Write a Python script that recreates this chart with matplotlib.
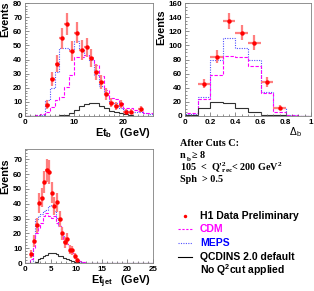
import numpy as np
import matplotlib
matplotlib.use('Agg')
import matplotlib.pyplot as plt
from matplotlib.ticker import MultipleLocator

plt.rcParams['mathtext.default'] = 'regular'

# ---- Et_b panel (1 GeV bins, 0..26) ----
etb_edges = np.arange(0, 27, 1)
etb_meps = [0, 0, 0.5, 1, 11, 19.5, 31, 48, 48, 46.5, 53, 46.5, 43, 39.5, 29, 21,
            15, 10, 9, 5.5, 4, 3, 2.5, 2.5, 2, 1.5]
etb_cdm = [0, 0, 1, 1.5, 3, 6.5, 11, 13.5, 20.5, 29, 42, 41.5, 43, 40.5, 36, 28,
           18.5, 12.5, 12, 9, 5.5, 5.5, 4, 3.5, 2, 2]
etb_qcd = [0, 0, 0, 0, 0, 0, 0.2, 0.5, 1, 2, 4, 7, 8.5, 9.5, 9, 7, 5.5, 3.5, 2.5,
           2, 1.2, 0.7, 0.3, 0.2, 0, 0]
etb_x = [4.5, 5.5, 6.5, 7.5, 8.5, 9.5, 10.5, 11.5, 12.5, 13.5, 14.5, 15.5, 16.5,
         17.5, 18.5, 19.5, 20.5, 21.5, 23.5]
etb_y = [8, 26, 37, 55, 65, 46, 59, 47, 48.5, 41, 31, 24, 15.5, 9.5, 7, 8.5, 3, 3, 5]
etb_err = [3, 5, 6, 7.5, 8, 7, 7.5, 7, 7, 6.5, 5.5, 5, 4, 3, 2.7, 3, 1.7, 1.7, 2.2]

# ---- Delta_b panel (0.1 bins) ----
db_edges = np.arange(0, 1.01, 0.1)
db_meps = [3, 27, 79, 110, 96, 79, 34, 12, 1, 0.5]
db_cdm = [4, 24, 58, 85, 83, 71, 32, 6, 1, 0.5]
db_qcd = [2, 12, 20, 19, 12, 5, 1.5, 1, 0.5, 0.3]
db_x = [0.15, 0.25, 0.35, 0.45, 0.55, 0.65, 0.75]
db_y = [46, 84, 135, 118, 104, 48.5, 12]
db_err = [7, 9, 11.5, 11, 10, 7, 3.5]

# ---- Et_jet panel (0.5 GeV bins, 0..25) ----
ej_edges = np.arange(0, 25.01, 0.5)
ej_meps = [0, 0, 0, 14.5, 30, 31.5, 33, 35, 36, 38.5, 39.5, 35, 30.5, 26, 20, 18,
           12.5, 9, 7, 4.5, 2.2, 1, 0.7, 0.3, 0.3, 0.3] + [0] * 24
ej_cdm = [0, 0, 3, 10, 20, 23.5, 27, 31.5, 34, 31.5, 30.5, 31.5, 27, 25, 20, 16,
          12.5, 10, 7, 4.5, 2.2, 1.1, 0.5, 0.5, 0, 0] + [0] * 24
ej_qcd = [0, 0, 0, 0, 1, 2.5, 3.5, 4.5, 5.4, 6.5, 7, 6.5, 6, 5, 4.5, 3.5, 3, 2,
          1.5, 1, 0.5, 0.2, 0, 0, 0, 0] + [0] * 24
ej_x = [1.25, 1.75, 2.25, 2.75, 3.25, 3.75, 4.25, 4.75, 5.25, 5.75, 6.25, 6.75,
        7.25, 7.75, 8.25, 8.75, 9.25, 9.75, 10.25]
ej_y = [6, 15, 25.5, 40.5, 44, 54.5, 62.5, 61.5, 47.5, 38.5, 41, 29.5, 20, 14,
        16, 9, 8.5, 4.5, 2]
ej_err = [2.5, 4, 5, 6.5, 6.5, 7.5, 8, 8, 7, 6, 6.5, 5.5, 4.5, 3.7, 4, 3, 3, 2.1, 1.4]

W, H = 314.0, 291.0
fig = plt.figure(figsize=(W / 100, H / 100), dpi=100)

tickfont = {'family': 'Liberation Sans', 'weight': 'bold', 'size': 5.8}
labfont = {'family': 'Liberation Sans', 'weight': 'bold', 'size': 7.8}


def frame(l, t, r, b):
    return fig.add_axes([l / W, 1 - b / H, (r - l) / W, (b - t) / H])


def draw(ax, edges, meps, cdm, qcd, x, y, err, xerr):
    ax.stairs(meps, edges, color='#5050ff', ls=(0, (1, 1.2)), lw=0.8)
    ax.stairs(cdm, edges, color='#ff00ff', ls=(0, (3, 1.5)), lw=0.8)
    ax.stairs(qcd, edges, color='#303030', lw=0.8)
    ax.errorbar(x, y, yerr=err, xerr=xerr, fmt='none', ecolor='#ff7f7f', elinewidth=1.6)
    ax.plot(x, y, 'o', color='#ff0000', ms=3.2, mec='none')
    ax.tick_params(which='both', direction='in', length=3, width=0.5, colors='#606060',
                   pad=2, labelcolor='black')
    ax.tick_params(which='minor', length=1.5)
    for lab in ax.get_xticklabels() + ax.get_yticklabels():
        lab.set_fontproperties(matplotlib.font_manager.FontProperties(**tickfont))
    for s in ax.spines.values():
        s.set_color('#808080')
        s.set_linewidth(0.6)


# top left
ax1 = frame(25, 3, 153, 116)
ax1.set_xlim(0, 26)
ax1.set_ylim(0, 80)
ax1.xaxis.set_major_locator(MultipleLocator(10))
ax1.xaxis.set_minor_locator(MultipleLocator(1))
ax1.yaxis.set_major_locator(MultipleLocator(10))
ax1.yaxis.set_minor_locator(MultipleLocator(2))
draw(ax1, etb_edges, etb_meps, etb_cdm, etb_qcd, etb_x, etb_y, etb_err, 0.5)
fig.text(0 / W, 1 - 1 / H, 'Events', rotation=90, ha='left', va='top', **labfont)
fig.text(151 / W, 1 - 133 / H, r'Et$_b$   (GeV)', ha='right', va='center', **labfont)

# top right
ax2 = frame(185, 3, 311, 116)
ax2.set_xlim(0, 1)
ax2.set_ylim(0, 160)
ax2.xaxis.set_major_locator(MultipleLocator(0.2))
ax2.xaxis.set_minor_locator(MultipleLocator(0.05))
ax2.yaxis.set_major_locator(MultipleLocator(20))
ax2.yaxis.set_minor_locator(MultipleLocator(5))
ax2.xaxis.set_major_formatter(matplotlib.ticker.FuncFormatter(lambda v, p: '%g' % round(v, 1)))
draw(ax2, db_edges, db_meps, db_cdm, db_qcd, db_x, db_y, db_err, 0.05)
fig.text(156 / W, 1 - 9 / H, 'Events', rotation=90, ha='left', va='top', **labfont)
fig.text(295 / W, 1 - 132 / H, r'Δ$_b$', ha='center', va='center',
         family='Liberation Sans', size=7.5)

# bottom left
ax3 = frame(25, 149, 153, 263)
ax3.set_xlim(0, 25)
ax3.set_ylim(0, 77)
ax3.xaxis.set_major_locator(MultipleLocator(5))
ax3.xaxis.set_minor_locator(MultipleLocator(1))
ax3.yaxis.set_major_locator(MultipleLocator(10))
ax3.yaxis.set_minor_locator(MultipleLocator(2))
draw(ax3, ej_edges, ej_meps, ej_cdm, ej_qcd, ej_x, ej_y, ej_err, 0.25)
fig.text(0 / W, 1 - 158 / H, 'Events', rotation=90, ha='left', va='top', **labfont)
fig.text(151 / W, 1 - 282 / H, r'Et$_{jet}$   (GeV)', ha='right', va='center', **labfont)

# cut description (serif)
serif = {'family': 'Liberation Serif', 'weight': 'bold', 'size': 7.3}
fig.text(180 / W, 1 - 144 / H, 'After Cuts C:', va='center', **serif)
fig.text(180 / W, 1 - 156 / H, 'n', va='center', **serif)
fig.text(186.5 / W, 1 - 159.5 / H, 'b', va='center', family='Liberation Serif',
         weight='bold', size=5)
fig.text(192 / W, 1 - 156 / H, '≥ 8', va='center', **serif)
fig.text(180 / W, 1 - 168 / H, r"105  <  Q'$^2_{rec}$< 200 GeV$^2$",
         va='center', **serif)
fig.text(180 / W, 1 - 179 / H, 'Sph  > 0.5', va='center', **serif)

# legend by hand
leg = {'family': 'Liberation Sans', 'weight': 'bold', 'size': 7.5}
fig.lines.append(plt.Line2D([185 / W], [1 - 216 / H], marker='o', color='#ff0000', ms=2.5,
                            mec='none', transform=fig.transFigure))
fig.text(200 / W, 1 - 216 / H, 'H1 Data Preliminary', va='center', **leg)
fig.lines.append(plt.Line2D([178 / W, 192 / W], [1 - 229 / H] * 2, color='#ff00ff', ls=(0, (2, 1.5)),
                            lw=0.8, transform=fig.transFigure))
fig.text(200 / W, 1 - 229 / H, 'CDM', va='center', color='#ff00ff', **leg)
fig.lines.append(plt.Line2D([178 / W, 192 / W], [1 - 243 / H] * 2, color='#5050ff', ls=(0, (1, 1.2)),
                            lw=0.8, transform=fig.transFigure))
fig.text(200 / W, 1 - 243 / H, 'MEPS', va='center', color='#0000ff', **leg)
fig.lines.append(plt.Line2D([178 / W, 192 / W], [1 - 257 / H] * 2, color='black',
                            lw=0.8, transform=fig.transFigure))
fig.text(200 / W, 1 - 257 / H, 'QCDINS 2.0 default', va='center', **leg)
fig.text(200 / W, 1 - 270 / H, r'No Q$^2$cut applied', va='center', **leg)

fig.savefig('out.png', dpi=100)
